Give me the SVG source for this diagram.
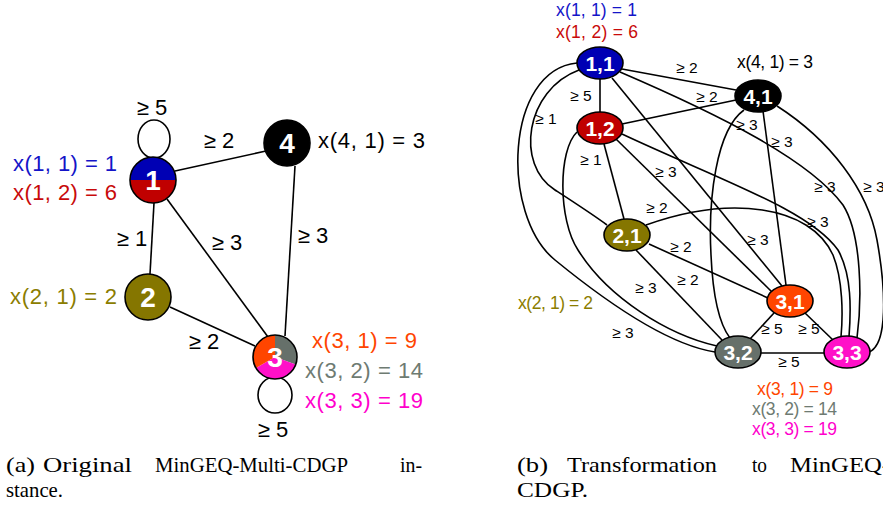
<svg xmlns="http://www.w3.org/2000/svg" width="883" height="506" viewBox="0 0 883 506">
<style>
.e{fill:none;stroke:#000;stroke-width:1.6}
.n{stroke:#000;stroke-width:1.6}
.lt{font-family:"Liberation Sans",Arial,sans-serif;font-size:22px;fill:#000}
.rt{font-family:"Liberation Sans",Arial,sans-serif;font-size:15.5px;fill:#000;text-anchor:middle}
.rx{font-family:"Liberation Sans",Arial,sans-serif;font-size:17.5px}
.nl{font-family:"Liberation Sans",Arial,sans-serif;font-weight:bold;font-size:28px;fill:#fff;text-anchor:middle}
.nr{font-family:"Liberation Sans",Arial,sans-serif;font-weight:bold;font-size:21px;fill:#fff;text-anchor:middle}
.cap{font-family:"Liberation Serif","Times New Roman",serif;font-size:21px;fill:#000}
</style>
<rect width="883" height="506" fill="#fff"/>

<!-- LEFT DIAGRAM -->
<g id="left-edges">
<ellipse class="e" cx="154" cy="139" rx="16" ry="19"/>
<ellipse class="e" cx="275" cy="395" rx="17" ry="18"/>
<line class="e" x1="175" y1="171" x2="266" y2="151"/>
<line class="e" x1="154" y1="203" x2="150" y2="274"/>
<line class="e" x1="167" y1="199" x2="268" y2="337"/>
<line class="e" x1="295" y1="166" x2="285" y2="336"/>
<line class="e" x1="170" y1="307" x2="255" y2="346"/>
<text class="lt" x="152" y="115" text-anchor="middle">≥ 5</text>
<text class="lt" x="219" y="148" text-anchor="middle">≥ 2</text>
<text class="lt" x="132" y="246" text-anchor="middle">≥ 1</text>
<text class="lt" x="227" y="250" text-anchor="middle">≥ 3</text>
<text class="lt" x="313" y="243" text-anchor="middle">≥ 3</text>
<text class="lt" x="204" y="349" text-anchor="middle">≥ 2</text>
<text class="lt" x="273" y="437" text-anchor="middle">≥ 5</text>
</g>
<g id="node-1">
<path d="M130,180 A23,23 0 0,1 176,180 Z" fill="#0000b4"/>
<path d="M130,180 A23,23 0 0,0 176,180 Z" fill="#c00000"/>
<circle class="n" cx="153" cy="180" r="23" fill="none"/>
<text class="nl" x="153" y="190">1</text>
<text class="lt" x="13" y="171" fill="#1414c8" style="fill:#1414c8" textLength="104">x(1, 1) = 1</text>
<text class="lt" x="13" y="200" style="fill:#c80a0a" textLength="104">x(1, 2) = 6</text>
</g>
<g id="node-2">
<circle class="n" cx="148" cy="297" r="23" fill="#857600"/>
<text class="nl" x="148" y="307">2</text>
<text class="lt" x="10" y="304" style="fill:#8b7d00" textLength="107">x(2, 1) = 2</text>
</g>
<g id="node-3">
<path d="M275,357 L275,335 A22,22 0 0,1 295.67,364.52 Z" fill="#66706a"/>
<path d="M275,357 L295.67,364.52 A22,22 0 0,1 255.95,368 Z" fill="#ff10c8"/>
<path d="M275,357 L255.95,368 A22,22 0 0,1 275,335 Z" fill="#ff4500"/>
<circle class="n" cx="275" cy="357" r="22" fill="none"/>
<text class="nl" x="275" y="367">3</text>
<text class="lt" x="312" y="348" style="fill:#ff4500" textLength="105">x(3, 1) = 9</text>
<text class="lt" x="305" y="378" style="fill:#6e7b72" textLength="118">x(3, 2) = 14</text>
<text class="lt" x="305" y="408" style="fill:#ff00cc" textLength="118">x(3, 3) = 19</text>
</g>
<g id="node-4">
<circle class="n" cx="287" cy="143" r="23" fill="#000"/>
<text class="nl" x="287" y="153">4</text>
<text class="lt" x="318" y="148" textLength="107">x(4, 1) = 3</text>
</g>

<!-- RIGHT DIAGRAM -->
<g id="right-edges">
<line class="e" x1="600" y1="79" x2="600" y2="112"/>
<line class="e" x1="622" y1="69" x2="736" y2="90"/>
<line class="e" x1="622" y1="124" x2="736" y2="100"/>
<path class="e" d="M579,70 C525,90 515,165 555,190 C575,203 592,214 607,225"/>
<line class="e" x1="604" y1="144" x2="624" y2="219"/>
<path class="e" d="M577,63 C505,70 500,215 555,260 C610,305 670,345 715,352"/>
<path class="e" d="M577,132 C558,150 558,220 578,250 C608,298 668,335 717,346"/>
<line class="e" x1="612" y1="78" x2="782" y2="286"/>
<line class="e" x1="616" y1="139" x2="772" y2="292"/>
<path class="e" d="M620,72 C720,115 810,160 843,205 C862,235 862,300 857,338"/>
<path class="e" d="M622,134 C720,180 810,210 838,250 C852,275 851,310 849,337"/>
<path class="e" d="M744,110 C716,130 708,200 711,255 C713,300 720,325 730,338"/>
<line class="e" x1="763" y1="111" x2="786" y2="285"/>
<path class="e" d="M777,106 C830,140 868,190 877,240 C886,290 888,345 869,352"/>
<line class="e" x1="649" y1="244" x2="768" y2="298"/>
<line class="e" x1="636" y1="250" x2="722" y2="340"/>
<path class="e" d="M646,225 C730,195 810,205 833,255 C843,280 843,315 841,337"/>
<line class="e" x1="774" y1="313" x2="750" y2="339"/>
<line class="e" x1="805" y1="313" x2="833" y2="340"/>
<line class="e" x1="761" y1="353" x2="824" y2="353"/>
<text class="rt" x="687" y="73">≥ 2</text>
<text class="rt" x="707" y="102">≥ 2</text>
<text class="rt" x="581" y="101">≥ 5</text>
<text class="rt" x="546" y="124">≥ 1</text>
<text class="rt" x="591" y="165">≥ 1</text>
<text class="rt" x="666" y="177">≥ 3</text>
<text class="rt" x="747" y="130">≥ 3</text>
<text class="rt" x="782" y="147">≥ 3</text>
<text class="rt" x="825" y="192">≥ 3</text>
<text class="rt" x="874" y="192">≥ 3</text>
<text class="rt" x="657" y="213">≥ 2</text>
<text class="rt" x="818" y="227">≥ 3</text>
<text class="rt" x="681" y="252">≥ 2</text>
<text class="rt" x="758" y="245">≥ 3</text>
<text class="rt" x="688" y="285">≥ 2</text>
<text class="rt" x="646" y="293">≥ 3</text>
<text class="rt" x="623" y="338">≥ 3</text>
<text class="rt" x="772" y="334">≥ 5</text>
<text class="rt" x="809" y="334">≥ 5</text>
<text class="rt" x="789" y="367">≥ 5</text>
</g>
<g id="node-11">
<ellipse class="n" cx="600" cy="63" rx="23" ry="16" fill="#0000b4"/>
<text class="nr" x="600" y="71">1,1</text>
<text class="rx" x="556" y="16" style="fill:#1414c8" textLength="81">x(1, 1) = 1</text>
</g>
<g id="node-12">
<ellipse class="n" cx="600" cy="128" rx="23" ry="16" fill="#c00000"/>
<text class="nr" x="600" y="136">1,2</text>
<text class="rx" x="556" y="38" style="fill:#c80a0a" textLength="82">x(1, 2) = 6</text>
</g>
<g id="node-41">
<ellipse class="n" cx="758" cy="96" rx="23" ry="16" fill="#000"/>
<text class="nr" x="758" y="104">4,1</text>
<text class="rx" x="737" y="68" style="fill:#000" textLength="76">x(4, 1) = 3</text>
</g>
<g id="node-21">
<ellipse class="n" cx="627" cy="235" rx="23" ry="16" fill="#857600"/>
<text class="nr" x="627" y="243">2,1</text>
<text class="rx" x="518" y="309" style="fill:#8b7d00" textLength="75">x(2, 1) = 2</text>
</g>
<g id="node-31">
<ellipse class="n" cx="790" cy="301" rx="23" ry="16" fill="#ff4500"/>
<text class="nr" x="790" y="309">3,1</text>
<text class="rx" x="757" y="395" style="fill:#ff4500" textLength="76">x(3, 1) = 9</text>
</g>
<g id="node-32">
<ellipse class="n" cx="738" cy="352" rx="23" ry="16" fill="#66706a"/>
<text class="nr" x="738" y="360">3,2</text>
<text class="rx" x="752" y="415" style="fill:#6e7b72" textLength="85">x(3, 2) = 14</text>
</g>
<g id="node-33">
<ellipse class="n" cx="847" cy="352" rx="23" ry="16" fill="#ff10c8"/>
<text class="nr" x="847" y="360">3,3</text>
<text class="rx" x="752" y="435" style="fill:#ff00cc" textLength="85">x(3, 3) = 19</text>
</g>

<!-- CAPTIONS -->
<g id="captions">
<text class="cap" x="6" y="472" textLength="29" lengthAdjust="spacingAndGlyphs">(a)</text>
<text class="cap" x="43" y="472" textLength="89" lengthAdjust="spacingAndGlyphs">Original</text>
<text class="cap" x="155" y="472" textLength="193" lengthAdjust="spacingAndGlyphs">MinGEQ-Multi-CDGP</text>
<text class="cap" x="400" y="472" textLength="22" lengthAdjust="spacingAndGlyphs">in-</text>
<text class="cap" x="6" y="497" textLength="57" lengthAdjust="spacingAndGlyphs">stance.</text>
<text class="cap" x="517" y="472" textLength="31" lengthAdjust="spacingAndGlyphs">(b)</text>
<text class="cap" x="567" y="472" textLength="150" lengthAdjust="spacingAndGlyphs">Transformation</text>
<text class="cap" x="752" y="472" textLength="15" lengthAdjust="spacingAndGlyphs">to</text>
<text class="cap" x="790" y="472" textLength="100" lengthAdjust="spacingAndGlyphs">MinGEQ-</text>
<text class="cap" x="517" y="497" textLength="71" lengthAdjust="spacingAndGlyphs">CDGP.</text>
</g>
</svg>
